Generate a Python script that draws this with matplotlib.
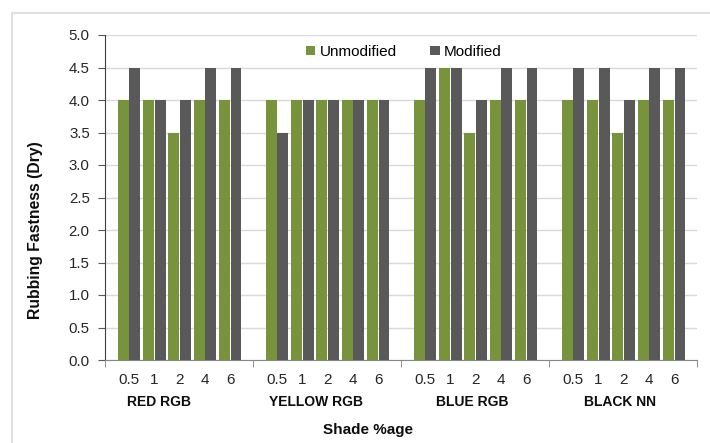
import matplotlib
matplotlib.use("Agg")
import matplotlib.pyplot as plt
from matplotlib.patches import Rectangle
import numpy as np

plt.rcParams['font.family'] = ['Liberation Sans', 'DejaVu Sans']

groups = ["RED RGB", "YELLOW RGB", "BLUE RGB", "BLACK NN"]
shades = ["0.5", "1", "2", "4", "6"]
unmodified = [
    [4.0, 4.0, 3.5, 4.0, 4.0],
    [4.0, 4.0, 4.0, 4.0, 4.0],
    [4.0, 4.5, 3.5, 4.0, 4.0],
    [4.0, 4.0, 3.5, 4.0, 4.0],
]
modified = [
    [4.5, 4.0, 4.0, 4.5, 4.5],
    [3.5, 4.0, 4.0, 4.0, 4.0],
    [4.5, 4.5, 4.0, 4.5, 4.5],
    [4.5, 4.5, 4.0, 4.5, 4.5],
]

GREEN = "#77933C"
GRAY = "#595959"
W, H = 710, 443
fig = plt.figure(figsize=(W / 100, H / 100), dpi=100)
ax = fig.add_axes([105 / W, 1 - 360 / H, (697 - 105) / W, (360 - 35) / H])

gw = 5.85
first = 0.95
bw = 0.43
off = 0.23
centers = []
for g in range(len(groups)):
    c = g * gw + first + np.arange(len(shades))
    centers.extend(c)
    ax.bar(c - off, unmodified[g], width=bw, color=GREEN, zorder=3,
           label="Unmodified" if g == 0 else None)
    ax.bar(c + off, modified[g], width=bw, color=GRAY, zorder=3,
           label="Modified" if g == 0 else None)

ax.set_xlim(0, gw * len(groups))
ax.set_ylim(0, 5.0)
ax.set_yticks(np.arange(0, 5.01, 0.5))
ax.set_yticklabels([f"{v:.1f}" for v in np.arange(0, 5.01, 0.5)], fontsize=10.8, color="#262626")
ax.yaxis.grid(True, color="#D9D9D9", linewidth=1, zorder=0)
ax.set_axisbelow(True)

ax.set_xticks(centers)
ax.set_xticklabels(shades * len(groups), fontsize=11, color="#262626")
ax.tick_params(axis='x', which='major', length=0, pad=9)
ax.set_xticks([gw * i for i in range(len(groups) + 1)], minor=True)
ax.tick_params(axis='x', which='minor', length=5, color="#7f7f7f", direction='out')
ax.tick_params(axis='y', length=5, color="#595959", direction='out', pad=6)

for s in ["top", "right"]:
    ax.spines[s].set_visible(False)
ax.spines["left"].set_color("#404040")
ax.spines["bottom"].set_color("#868686")

label_shift = [-0.8, -0.45, -0.1, -0.1]
for g, name in enumerate(groups):
    ax.annotate(name, xy=(g * gw + gw / 2 + label_shift[g], 0), xycoords=('data', 'axes fraction'),
                xytext=(0, -42), textcoords='offset pixels', ha='center', va='center',
                fontsize=10, fontweight='bold', color="#0d0d0d")

fig.text(368 / W, 1 - 430 / H, "Shade %age", ha='center', va='center',
         fontsize=11, fontweight='bold', color="#0d0d0d")
fig.text(36 / W, 1 - 230 / H, "Rubbing Fastness (Dry)", rotation=90, ha='center', va='center',
         fontsize=11.3, fontweight='bold', color="#0d0d0d")

leg = ax.legend(loc='upper center', bbox_to_anchor=(404 / W, 1 - 31 / H), bbox_transform=fig.transFigure,
                ncol=2, frameon=False, fontsize=11, handlelength=0.6, handleheight=0.6,
                handletextpad=0.3, columnspacing=2.2)

fig.patches.append(Rectangle((12 / W, -0.1), 1.2, 1 - 13 / H + 0.1, transform=fig.transFigure,
                             fill=False, edgecolor="#D9D9D9", linewidth=1.2))

fig.savefig("out.png", dpi=100)
